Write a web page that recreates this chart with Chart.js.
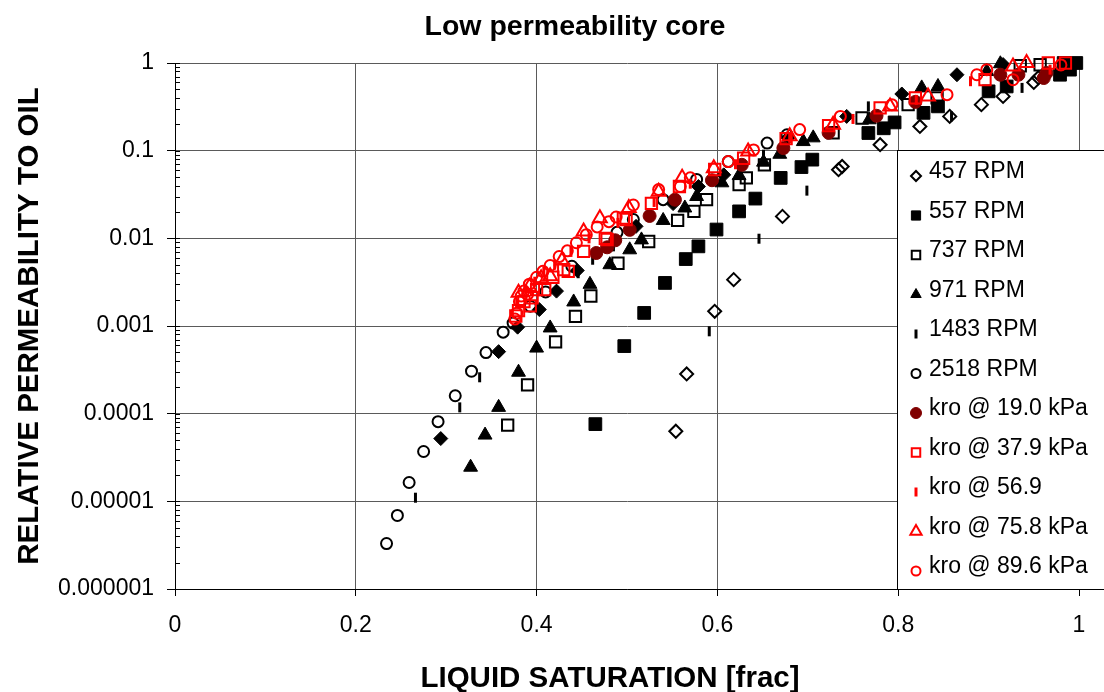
<!DOCTYPE html>
<html>
<head>
<meta charset="utf-8">
<title>Low permeability core</title>
<script src="https://cdn.jsdelivr.net/npm/chart.js@4.4.1/dist/chart.umd.min.js"></script>
<style>
  html, body { margin: 0; padding: 0; background: #fff; }
  canvas { display: block; }
</style>
</head>
<body>
<canvas id="kroChart" width="1104" height="692"></canvas>
<script>
// ── DATA ────────────────────────────────────────────────────────────────────

const chartTitle  = 'Low permeability core';
const xAxisTitle  = 'LIQUID SATURATION [frac]';
const yAxisTitle  = 'RELATIVE PERMEABILITY TO OIL';
const xTickLabels = ['0', '0.2', '0.4', '0.6', '0.8', '1'];
const yTickLabels = ['1', '0.1', '0.01', '0.001', '0.0001', '0.00001', '0.000001'];

// filled diamonds (series without a legend entry)
const extraX = [0.294, 0.358, 0.379, 0.403, 0.422, 0.445, 0.510, 0.551, 0.579, 0.607, 0.678, 0.743, 0.804, 0.865, 0.916];
const extraY = [5.2e-5, 5.1e-4, 9.7e-4, 1.54e-3, 2.5e-3, 4.3e-3, 1.37e-2, 2.49e-2, 3.9e-2, 5.3e-2, 0.14, 0.246, 0.443, 0.735, 0.96];

const rpm457X = [0.554, 0.566, 0.597, 0.618, 0.672, 0.734, 0.738, 0.780, 0.824, 0.857, 0.892, 0.916, 0.950, 0.955, 0.985];
const rpm457Y = [6.3e-5, 2.84e-4, 1.47e-3, 3.38e-3, 1.78e-2, 6.07e-2, 6.6e-2, 0.117, 0.189, 0.246, 0.335, 0.416, 0.60, 0.68, 0.92];

const rpm557X = [0.465, 0.497, 0.519, 0.542, 0.565, 0.579, 0.599, 0.624, 0.642, 0.670, 0.693, 0.705, 0.767, 0.784, 0.796, 0.828, 0.844, 0.900, 0.920, 0.979, 0.983, 0.990, 0.997];
const rpm557Y = [7.6e-5, 5.9e-4, 1.41e-3, 3.1e-3, 5.8e-3, 8.1e-3, 1.26e-2, 2.03e-2, 2.84e-2, 4.89e-2, 6.5e-2, 7.9e-2, 0.159, 0.18, 0.21, 0.27, 0.32, 0.475, 0.54, 0.735, 1.0, 0.84, 1.0];

const rpm737X = [0.368, 0.390, 0.421, 0.443, 0.460, 0.490, 0.524, 0.556, 0.574, 0.588, 0.624, 0.632, 0.652, 0.728, 0.760, 0.811, 0.843, 0.935, 0.957];
const rpm737Y = [7.4e-5, 2.13e-4, 6.6e-4, 1.29e-3, 2.2e-3, 5.2e-3, 9.2e-3, 1.6e-2, 2.03e-2, 2.76e-2, 4.1e-2, 4.9e-2, 6.9e-2, 0.16, 0.236, 0.335, 0.40, 0.93, 0.955];

const rpm971X = [0.327, 0.343, 0.358, 0.380, 0.400, 0.415, 0.441, 0.459, 0.481, 0.503, 0.516, 0.540, 0.564, 0.577, 0.605, 0.624, 0.651, 0.669, 0.695, 0.706, 0.768, 0.826, 0.844, 0.898, 0.913];
const rpm971Y = [2.45e-5, 5.7e-5, 1.18e-4, 2.97e-4, 5.6e-4, 9.5e-4, 1.88e-3, 2.99e-3, 5.0e-3, 7.4e-3, 9.6e-3, 1.6e-2, 2.22e-2, 3.0e-2, 4.3e-2, 5.2e-2, 7.4e-2, 9.1e-2, 0.127, 0.14, 0.225, 0.52, 0.54, 0.80, 0.98];

const rpm1483X = [0.266, 0.315, 0.337, 0.446, 0.462, 0.485, 0.591, 0.646, 0.651, 0.699, 0.767, 0.859, 0.937];
const rpm1483Y = [1.1e-5, 1.18e-4, 2.6e-4, 4.0e-3, 5.7e-3, 8.1e-3, 8.7e-4, 9.9e-3, 9.0e-2, 3.5e-2, 0.32, 0.246, 0.52];

const rpm2518X = [0.234, 0.246, 0.259, 0.275, 0.291, 0.310, 0.328, 0.344, 0.363, 0.374, 0.393, 0.410, 0.439, 0.489, 0.507, 0.540, 0.577, 0.612, 0.655, 0.677];
const rpm2518Y = [3.3e-6, 6.9e-6, 1.64e-5, 3.7e-5, 8.1e-5, 1.6e-4, 3.05e-4, 4.97e-4, 8.5e-4, 1.08e-3, 1.68e-3, 2.45e-3, 4.8e-3, 1.17e-2, 1.64e-2, 2.76e-2, 4.7e-2, 7.5e-2, 0.122, 0.152];

const kro19X = [0.466, 0.478, 0.487, 0.503, 0.525, 0.553, 0.594, 0.627, 0.673, 0.723, 0.776, 0.819, 0.913, 0.933, 0.961, 0.964];
const kro19Y = [6.8e-3, 7.9e-3, 9.5e-3, 1.25e-2, 1.8e-2, 2.76e-2, 4.6e-2, 6.9e-2, 0.107, 0.16, 0.25, 0.36, 0.735, 0.735, 0.674, 0.77];

const kro37X = [0.377, 0.380, 0.386, 0.393, 0.395, 0.400, 0.409, 0.418, 0.430, 0.435, 0.452, 0.476, 0.478, 0.496, 0.499, 0.527, 0.558, 0.597, 0.629, 0.676, 0.723, 0.780, 0.819, 0.896, 0.966, 0.985];
const kro37Y = [1.3e-3, 1.5e-3, 1.9e-3, 1.7e-3, 2.1e-3, 2.6e-3, 2.6e-3, 3.6e-3, 4.4e-3, 4.2e-3, 7.1e-3, 1.0e-2, 9.7e-3, 1.7e-2, 1.64e-2, 2.5e-2, 3.9e-2, 6.1e-2, 8.2e-2, 0.137, 0.193, 0.307, 0.40, 0.645, 1.0, 1.0];

const kro56X = [0.378, 0.388, 0.398, 0.408, 0.420, 0.438, 0.458, 0.490, 0.530, 0.570, 0.620, 0.680, 0.750, 0.820, 0.880, 0.968];
const kro56Y = [1.8e-3, 2.6e-3, 3.2e-3, 4.2e-3, 5.0e-3, 7.0e-3, 1.0e-2, 1.5e-2, 2.6e-2, 4.2e-2, 7.0e-2, 0.14, 0.23, 0.38, 0.62, 0.84];

const kro75X = [0.380, 0.392, 0.405, 0.415, 0.428, 0.452, 0.470, 0.502, 0.535, 0.561, 0.596, 0.634, 0.680, 0.728, 0.791, 0.833, 0.927, 0.942];
const kro75Y = [2.4e-3, 2.8e-3, 3.5e-3, 3.7e-3, 5.6e-3, 1.2e-2, 1.7e-2, 2.22e-2, 3.4e-2, 4.9e-2, 6.3e-2, 9.8e-2, 0.146, 0.198, 0.32, 0.416, 0.914, 1.0];

const kro89X = [0.376, 0.378, 0.381, 0.383, 0.386, 0.390, 0.392, 0.400, 0.407, 0.415, 0.425, 0.434, 0.444, 0.455, 0.467, 0.480, 0.488, 0.507, 0.535, 0.559, 0.570, 0.612, 0.640, 0.691, 0.736, 0.793, 0.854, 0.887, 0.898, 0.927, 0.980];
const kro89Y = [1.2e-3, 1.4e-3, 1.9e-3, 2.2e-3, 2.5e-3, 2.3e-3, 3.0e-3, 3.6e-3, 4.2e-3, 4.9e-3, 6.2e-3, 7.2e-3, 8.9e-3, 1.1e-2, 1.35e-2, 1.55e-2, 1.75e-2, 2.4e-2, 3.6e-2, 3.9e-2, 4.9e-2, 7.5e-2, 0.102, 0.174, 0.246, 0.335, 0.435, 0.735, 0.84, 0.645, 0.95];

// ── STYLE ────────────────────────────────────────────────────────────────────

const FONT   = "'Liberation Sans', Arial, Helvetica, sans-serif";
const BLACK  = '#000000';
const RED    = '#ff0000';
const DKRED  = '#800000';
const NONE   = 'rgba(0,0,0,0)';

Chart.defaults.font.family = FONT;
Chart.defaults.color = BLACK;

function pts(xs, ys) {
  return xs.map((x, i) => ({ x: x, y: ys[i] }));
}

// one entry per series: marker look in the plot and in the legend box
const SERIES = [
  { label: '',               xs: extraX,  ys: extraY,  shape: 'rectRot',  r: 7,   lr: 5,   fill: BLACK, line: BLACK, bw: 1 },
  { label: '457 RPM',        xs: rpm457X, ys: rpm457Y, shape: 'rectRot',  r: 6.5, lr: 5,   fill: NONE,  line: BLACK, bw: 2 },
  { label: '557 RPM',        xs: rpm557X, ys: rpm557Y, shape: 'rect',     r: 9,   lr: 6.5, fill: BLACK, line: BLACK, bw: 1 },
  { label: '737 RPM',        xs: rpm737X, ys: rpm737Y, shape: 'rect',     r: 8,   lr: 6,   fill: NONE,  line: BLACK, bw: 2 },
  { label: '971 RPM',        xs: rpm971X, ys: rpm971Y, shape: 'triangle', r: 8,   lr: 6,   fill: BLACK, line: BLACK, bw: 1 },
  { label: '1483 RPM',       xs: rpm1483X, ys: rpm1483Y, shape: 'line',   r: 5,   lr: 4.5, fill: NONE,  line: BLACK, bw: 3, rot: 90 },
  { label: '2518 RPM',       xs: rpm2518X, ys: rpm2518Y, shape: 'circle', r: 5.5, lr: 4.5, fill: NONE,  line: BLACK, bw: 2 },
  { label: 'kro @ 19.0 kPa', xs: kro19X,  ys: kro19Y,  shape: 'circle',   r: 6.5, lr: 5.5, fill: DKRED, line: DKRED, bw: 1 },
  { label: 'kro @ 37.9 kPa', xs: kro37X,  ys: kro37Y,  shape: 'rect',     r: 8,   lr: 6,   fill: NONE,  line: RED,   bw: 2 },
  { label: 'kro @ 56.9',     xs: kro56X,  ys: kro56Y,  shape: 'line',     r: 5,   lr: 4.5, fill: NONE,  line: RED,   bw: 3, rot: 90 },
  { label: 'kro @ 75.8 kPa', xs: kro75X,  ys: kro75Y,  shape: 'triangle', r: 8,   lr: 6.5, fill: NONE,  line: RED,   bw: 2 },
  { label: 'kro @ 89.6 kPa', xs: kro89X,  ys: kro89Y,  shape: 'circle',   r: 5.5, lr: 4.5, fill: NONE,  line: RED,   bw: 2 },
];

function isDecade(v) {
  const e = Math.log10(v);
  return Math.abs(e - Math.round(e)) < 1e-6;
}

function isWholeMantissa(v) {
  const m = v / Math.pow(10, Math.floor(Math.log10(v) + 1e-9));
  return Math.abs(m - Math.round(m)) < 1e-6;
}

// ── PLUGINS ──────────────────────────────────────────────────────────────────

// chart title and x-axis title, placed where the original has them
const titles = {
  id: 'titles',
  afterDraw(chart) {
    const ctx = chart.ctx;
    ctx.save();
    ctx.fillStyle = BLACK;
    ctx.textAlign = 'center';
    ctx.textBaseline = 'alphabetic';
    ctx.font = 'bold 28.5px ' + FONT;
    ctx.fillText(chartTitle, 575, 35);
    ctx.font = 'bold 29.5px ' + FONT;
    ctx.fillText(xAxisTitle, 610, 687);
    ctx.restore();
  },
};

// short inward minor ticks on the log axis
const innerTicks = {
  id: 'innerTicks',
  beforeDatasetsDraw(chart) {
    const s = chart.scales.y;
    const ctx = chart.ctx;
    ctx.save();
    ctx.strokeStyle = BLACK;
    ctx.lineWidth = 1;
    ctx.beginPath();
    s.ticks.forEach(t => {
      if (!isWholeMantissa(t.value)) return;
      const py = Math.round(s.getPixelForValue(t.value)) + 0.5;
      ctx.moveTo(s.right, py);
      ctx.lineTo(s.right + 5, py);
    });
    ctx.stroke();
    ctx.restore();
  },
};

// boxed legend sitting over the right part of the plot
const boxLegend = {
  id: 'boxLegend',
  afterDraw(chart) {
    const ctx = chart.ctx;
    const area = chart.chartArea;
    const left = 897, top = 150;
    ctx.save();
    ctx.fillStyle = '#fff';
    ctx.fillRect(left, top, 230, area.bottom - top);
    ctx.strokeStyle = BLACK;
    ctx.lineWidth = 1;
    ctx.strokeRect(left + 0.5, top + 0.5, 230, area.bottom - top);

    ctx.font = '23px ' + FONT;
    ctx.textBaseline = 'middle';
    let y = 172;
    chart.data.datasets.forEach(ds => {
      if (!ds.label) return;
      ctx.fillStyle = ds.pointBackgroundColor;
      ctx.strokeStyle = ds.pointBorderColor;
      ctx.lineWidth = ds.pointBorderWidth;
      Chart.helpers.drawPoint(ctx, {
        pointStyle: ds.pointStyle,
        rotation: ds.pointRotation || 0,
        radius: ds.legendRadius,
        borderWidth: ds.pointBorderWidth,
      }, 916, y + 4);
      ctx.fillStyle = BLACK;
      ctx.fillText(ds.label, 929, y);
      y += 39.5;
    });
    ctx.restore();
  },
};

// ── CHART ────────────────────────────────────────────────────────────────────

const datasets = SERIES.map((s, i) => ({
  label: s.label,
  data: pts(s.xs, s.ys),
  showLine: false,
  pointStyle: s.shape,
  pointRadius: s.r,
  pointHoverRadius: s.r,
  pointBackgroundColor: s.fill,
  pointBorderColor: s.line,
  pointBorderWidth: s.bw,
  pointRotation: s.rot || 0,
  legendRadius: s.lr,
  order: SERIES.length - i,
  clip: 20,
}));

new Chart(document.getElementById('kroChart'), {
  type: 'scatter',
  data: { datasets },
  plugins: [innerTicks, boxLegend, titles],
  options: {
    responsive: false,
    animation: false,
    devicePixelRatio: 1,
    layout: { padding: { left: 0, right: 25, top: 63, bottom: 0 } },
    plugins: {
      legend: { display: false },
      tooltip: { enabled: false },
      title: { display: false },
    },
    scales: {
      x: {
        type: 'linear',
        min: 0,
        max: 1,
        afterFit: s => { s.height = 103; },
        border: { color: BLACK, width: 1 },
        grid: { color: '#5a5a5a', lineWidth: 1, tickColor: BLACK, tickLength: 7 },
        ticks: {
          stepSize: 0.2,
          padding: 16,
          color: BLACK,
          font: { size: 23 },
          callback: v => xTickLabels[Math.round(v * 5)],
        },
        title: { display: false },
      },
      y: {
        type: 'logarithmic',
        min: 1e-6,
        max: 1,
        afterFit: s => { s.width = 175; },
        border: { color: BLACK, width: 1 },
        grid: {
          color: c => (c.tick && isDecade(c.tick.value)) ? '#5a5a5a' : NONE,
          tickColor: c => (c.tick && isDecade(c.tick.value)) ? BLACK : NONE,
          tickLength: 8,
          lineWidth: 1,
        },
        ticks: {
          autoSkip: false,
          padding: 13,
          color: BLACK,
          font: { size: 23 },
          callback: v => isDecade(v) ? yTickLabels[-Math.round(Math.log10(v))] : '',
        },
        title: {
          display: true,
          text: yAxisTitle,
          color: BLACK,
          font: { size: 29.5, weight: 'bold' },
          padding: { top: 12, bottom: 0 },
        },
      },
    },
  },
});
</script>
</body>
</html>
